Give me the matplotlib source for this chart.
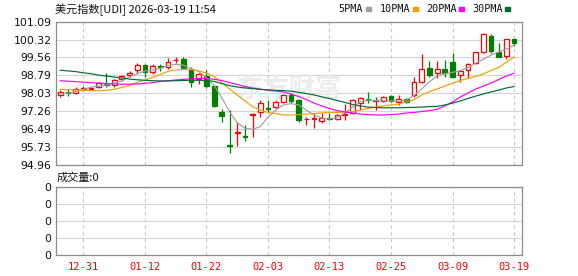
import matplotlib
matplotlib.use('Agg')
import matplotlib.pyplot as plt
import numpy as np

# daily candles, oldest first
open_ = [97.95, 98.06, 98.05, 98.20, 98.22, 98.30, 98.43, 98.38, 98.62, 98.79,
         99.00, 99.23, 98.92, 99.18, 99.16, 99.43, 99.49, 99.02, 98.62, 98.77,
         98.33, 97.23, 95.80, 96.33, 96.17, 97.11, 97.21, 97.40, 97.45, 97.66,
         97.95, 97.73, 96.90, 96.92, 96.85, 96.97, 96.91, 97.10, 97.16, 97.59,
         97.78, 97.71, 97.70, 97.92, 97.66, 97.76, 97.95, 98.52, 99.09, 98.88,
         99.06, 99.35, 98.80, 99.02, 99.31, 99.80, 100.49, 99.80, 99.62, 100.34]
high = [98.16, 98.19, 98.27, 98.35, 98.30, 98.52, 98.90, 98.64, 98.80, 98.98,
        99.31, 99.26, 99.26, 99.28, 99.55, 99.59, 99.56, 99.16, 98.90, 99.02,
        98.38, 97.35, 97.30, 96.80, 96.66, 97.16, 97.73, 97.73, 97.73, 98.00,
        98.04, 97.78, 97.00, 97.16, 97.19, 97.16, 97.15, 97.56, 97.76, 97.87,
        98.09, 97.87, 97.92, 97.95, 97.95, 97.80, 98.73, 99.69, 99.40, 99.40,
        99.45, 99.76, 99.02, 99.33, 99.80, 100.62, 100.55, 100.19, 100.34, 100.34]
low = [97.88, 97.92, 98.00, 98.13, 98.18, 98.24, 98.30, 98.30, 98.55, 98.70,
       98.90, 98.70, 98.85, 98.99, 99.05, 99.31, 99.12, 98.28, 98.42, 98.26,
       97.45, 96.80, 95.48, 95.76, 95.99, 96.13, 97.02, 97.16, 97.40, 97.60,
       97.60, 96.80, 96.66, 96.55, 96.76, 96.87, 96.88, 96.88, 97.14, 97.30,
       97.59, 97.30, 97.66, 97.66, 97.52, 97.62, 97.88, 98.48, 98.71, 98.69,
       98.73, 98.71, 98.52, 98.69, 99.26, 99.76, 99.73, 99.56, 99.48, 100.05]
close = [98.09, 98.04, 98.22, 98.23, 98.24, 98.45, 98.36, 98.59, 98.76, 98.90,
         99.24, 98.95, 99.19, 99.15, 99.38, 99.45, 99.09, 98.50, 98.85, 98.33,
         97.48, 97.05, 95.76, 96.35, 96.13, 97.14, 97.62, 97.36, 97.63, 97.95,
         97.69, 96.88, 96.93, 96.95, 96.98, 96.93, 97.09, 97.13, 97.73, 97.83,
         97.75, 97.74, 97.87, 97.69, 97.78, 97.66, 98.52, 99.05, 98.80, 99.05,
         98.90, 98.73, 98.98, 99.28, 99.78, 100.56, 99.85, 99.59, 100.34, 100.16]
volume = [0] * 60

ma5 = [97.99, 98.03, 98.09, 98.19, 98.28, 98.33, 98.38, 98.45, 98.55, 98.73,
       98.85, 98.98, 99.02, 99.09, 99.22, 99.26, 99.23, 99.08, 98.95, 98.69,
       98.36, 97.83, 97.23, 96.76, 96.52, 96.48, 96.59, 97.00, 97.30, 97.52,
       97.58, 97.52, 97.30, 97.09, 96.96, 96.92, 96.98, 97.18, 97.43, 97.65,
       97.73, 97.71, 97.70, 97.69, 97.68, 97.73, 97.93, 98.21, 98.52, 98.76,
       98.86, 98.92, 98.99, 99.12, 99.31, 99.48, 99.66, 99.79, 99.91, 100.09]
ma10 = [98.19, 98.18, 98.16, 98.15, 98.13, 98.13, 98.15, 98.19, 98.27, 98.36,
        98.49, 98.59, 98.70, 98.83, 98.96, 99.02, 99.05, 99.04, 98.98, 98.89,
        98.74, 98.48, 98.21, 97.95, 97.69, 97.45, 97.30, 97.20, 97.15, 97.09,
        97.09, 97.11, 97.13, 97.15, 97.18, 97.20, 97.20, 97.22, 97.24, 97.30,
        97.37, 97.43, 97.48, 97.52, 97.56, 97.65, 97.75, 97.95, 98.09, 98.21,
        98.33, 98.46, 98.57, 98.66, 98.74, 98.85, 99.00, 99.13, 99.36, 99.58]
ma20 = [98.56, 98.54, 98.52, 98.50, 98.47, 98.46, 98.44, 98.42, 98.41, 98.41,
        98.42, 98.45, 98.48, 98.53, 98.56, 98.59, 98.62, 98.64, 98.66, 98.66,
        98.62, 98.57, 98.48, 98.40, 98.31, 98.25, 98.20, 98.15, 98.12, 98.08,
        97.99, 97.88, 97.75, 97.60, 97.48, 97.37, 97.28, 97.22, 97.18, 97.13,
        97.11, 97.09, 97.09, 97.11, 97.13, 97.18, 97.20, 97.24, 97.28, 97.33,
        97.48, 97.65, 97.86, 98.03, 98.20, 98.33, 98.46, 98.61, 98.76, 98.88]
ma30 = [99.01, 98.98, 98.95, 98.90, 98.86, 98.80, 98.76, 98.72, 98.68, 98.63,
        98.60, 98.58, 98.56, 98.55, 98.55, 98.56, 98.57, 98.58, 98.58, 98.57,
        98.53, 98.44, 98.35, 98.29, 98.25, 98.22, 98.19, 98.17, 98.15, 98.14,
        98.11, 98.06, 98.01, 97.95, 97.87, 97.80, 97.71, 97.63, 97.54, 97.48,
        97.43, 97.41, 97.40, 97.40, 97.40, 97.41, 97.42, 97.43, 97.45, 97.46,
        97.52, 97.60, 97.69, 97.80, 97.90, 97.99, 98.08, 98.16, 98.25, 98.31]

yticks = [94.96, 95.73, 96.49, 97.26, 98.03, 98.79, 99.56, 100.32, 101.09]
tick_pos = [3, 11, 19, 27, 35, 43, 51, 59]
tick_labels = ['12-31', '01-12', '01-22', '02-03', '02-13', '02-25', '03-09', '03-19']

ma_names = ['5PMA', '10PMA', '20PMA', '30PMA']
ma_colors = ['#a0a0a0', '#f0a000', '#ff00ff', '#006c32']
RED = '#ff0000'
GREEN = '#008000'

W, H = 578, 276
fig = plt.figure(figsize=(W / 100, H / 100), dpi=100)
L, R = 55.7, 522.3
ax = fig.add_axes([L / W, 1 - 164.7 / H, (R - L) / W, (164.7 - 21.7) / H])
axv = fig.add_axes([L / W, 1 - 255.3 / H, (R - L) / W, (255.3 - 186.7) / H])

o = np.array(open_)
c = np.array(close)
x = np.arange(len(c))
up = c >= o
cols = np.where(up, RED, GREEN)

ax.vlines(x, low, high, colors=cols, lw=0.9, zorder=3)
body = np.maximum(np.abs(c - o), 0.008)
ax.bar(x, body, bottom=np.minimum(o, c), width=0.62,
       color=np.where(up, 'white', GREEN), edgecolor=cols, linewidth=0.9, zorder=4)

for vals, col in zip([ma5, ma10, ma20, ma30], ma_colors):
    ax.plot(x, vals, color=col, lw=0.85, zorder=5)

axv.bar(x, volume, width=0.62, color=RED)

for a in (ax, axv):
    a.set_xlim(-0.6, 60.07)
    a.set_xticks(tick_pos)
    for s in a.spines.values():
        s.set_color('#8c8c8c')
        s.set_linewidth(0.9)
    a.grid(axis='y', color='#d4d4d4', lw=0.8, ls='-')
    a.grid(axis='x', color='#c8c8c8', lw=0.8, ls=(0, (3, 3)))
    a.set_axisbelow(True)
    a.tick_params(length=0, pad=3, labelsize=7.8, labelcolor='#111111')

ax.set_ylim(94.96, 101.09)
ax.set_yticks(yticks)
ax.set_yticklabels(['%.2f' % v for v in yticks])
ax.set_xticklabels([])

axv.set_ylim(0, 1)
axv.set_yticks([0, 0.25, 0.5, 0.75, 1])
axv.set_yticklabels(['0'] * 5)
axv.set_xticklabels(tick_labels, color=RED, family='DejaVu Sans Mono', fontsize=7.5)
axv.tick_params(axis='x', pad=5)

# watermark
ax.text(0.50, 0.53, '东方财富', transform=ax.transAxes, ha='center', va='center',
        fontsize=19, color='#ececec', family='Noto Sans CJK SC', fontweight='bold', zorder=1)

fig.text(55 / W, 1 - 10 / H, '美元指数[UDI] 2026-03-19 11:54', ha='left', va='center',
         fontsize=8, family=['Noto Sans CJK SC', 'DejaVu Sans'], color='#111111')
fig.text(57 / W, 1 - 178 / H, '成交量:0', ha='left', va='center',
         fontsize=8, family=['Noto Sans CJK SC', 'DejaVu Sans'], color='#111111')

# legend row
lx = [338, 380, 426, 472]
mx = [366, 413, 459, 505]
for name, col, tx, m in zip(ma_names, ma_colors, lx, mx):
    fig.text(tx / W, 1 - 8.5 / H, name, ha='left', va='center', fontsize=7.3,
             family='DejaVu Sans Mono', color='#111111')
    fig.patches.append(plt.Rectangle((m / W, 1 - 11 / H), 5 / W, 4 / H,
                                     transform=fig.transFigure, color=col))

fig.savefig('out.png', dpi=100)
